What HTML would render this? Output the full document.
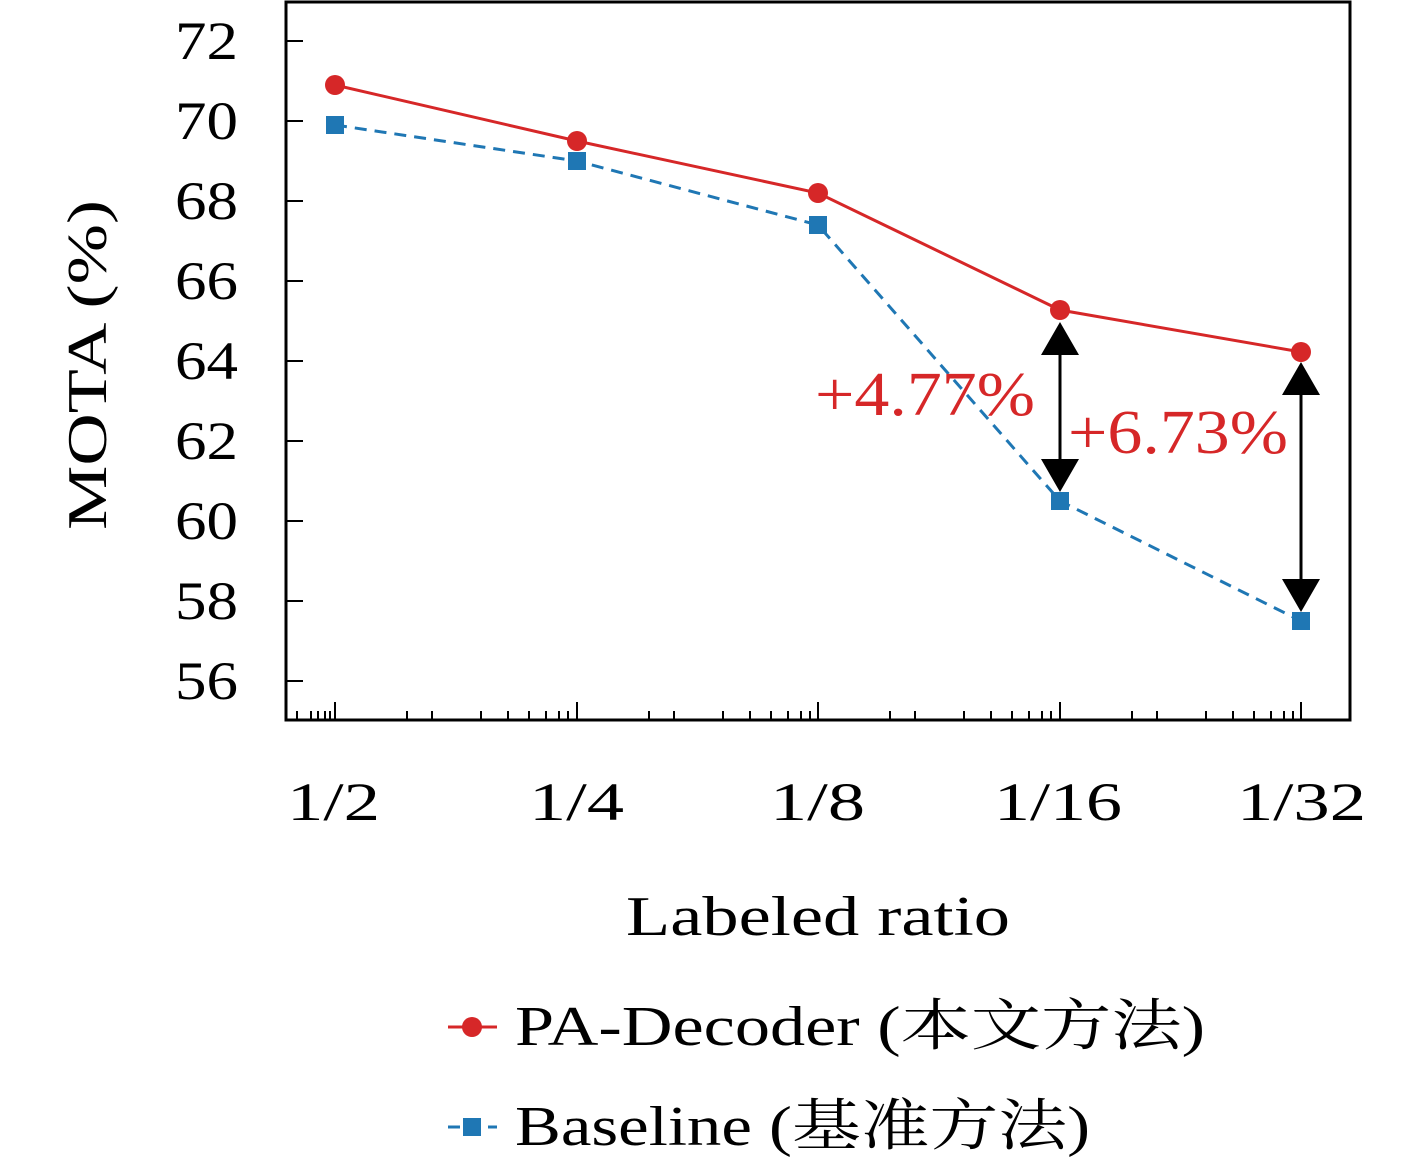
<!DOCTYPE html>
<html><head><meta charset="utf-8"><style>html,body{margin:0;padding:0;background:#fff}</style></head><body>
<svg width="1417" height="1165" xmlns="http://www.w3.org/2000/svg" font-family="'Liberation Serif','Noto Serif CJK SC',serif">
<g stroke="#000" stroke-width="2">
<line x1="286" y1="41" x2="303" y2="41"/><line x1="286" y1="121" x2="303" y2="121"/><line x1="286" y1="201" x2="303" y2="201"/><line x1="286" y1="281" x2="303" y2="281"/><line x1="286" y1="361" x2="303" y2="361"/><line x1="286" y1="441" x2="303" y2="441"/><line x1="286" y1="521" x2="303" y2="521"/><line x1="286" y1="601" x2="303" y2="601"/><line x1="286" y1="681" x2="303" y2="681"/>
<line x1="335" y1="720" x2="335" y2="702"/><line x1="577" y1="720" x2="577" y2="702"/><line x1="818" y1="720" x2="818" y2="702"/><line x1="1060" y1="720" x2="1060" y2="702"/><line x1="1301" y1="720" x2="1301" y2="702"/>
<path d="M297 720v-9M311 720v-9M318 720v-9M325 720v-9M330 720v-9
M407 720v-9M432 720v-9M481 720v-9M508 720v-9M529 720v-9M546 720v-9M559 720v-9M568 720v-9
M649 720v-9M674 720v-9M723 720v-9M750 720v-9M771 720v-9M788 720v-9M801 720v-9M810 720v-9
M890 720v-9M915 720v-9M964 720v-9M991 720v-9M1012 720v-9M1029 720v-9M1042 720v-9M1051 720v-9
M1132 720v-9M1157 720v-9M1206 720v-9M1233 720v-9M1254 720v-9M1271 720v-9M1284 720v-9M1293 720v-9"/>
</g>
<rect x="286" y="2" width="1064" height="718" fill="none" stroke="#000" stroke-width="3"/>
<g font-size="54" text-anchor="end">
<text x="238" y="59" textLength="63" lengthAdjust="spacingAndGlyphs">72</text><text x="238" y="139" textLength="63" lengthAdjust="spacingAndGlyphs">70</text><text x="238" y="219" textLength="63" lengthAdjust="spacingAndGlyphs">68</text><text x="238" y="299" textLength="63" lengthAdjust="spacingAndGlyphs">66</text><text x="238" y="379" textLength="63" lengthAdjust="spacingAndGlyphs">64</text><text x="238" y="459" textLength="63" lengthAdjust="spacingAndGlyphs">62</text><text x="238" y="539" textLength="63" lengthAdjust="spacingAndGlyphs">60</text><text x="238" y="619" textLength="63" lengthAdjust="spacingAndGlyphs">58</text><text x="238" y="699" textLength="63" lengthAdjust="spacingAndGlyphs">56</text>
</g>
<g font-size="54">
<text x="287" y="820" textLength="93" lengthAdjust="spacingAndGlyphs">1/2</text><text x="529" y="820" textLength="95" lengthAdjust="spacingAndGlyphs">1/4</text><text x="770" y="820" textLength="95" lengthAdjust="spacingAndGlyphs">1/8</text><text x="994" y="820" textLength="128" lengthAdjust="spacingAndGlyphs">1/16</text><text x="1237" y="820" textLength="129" lengthAdjust="spacingAndGlyphs">1/32</text>
</g>
<text x="626" y="935" font-size="56" textLength="384" lengthAdjust="spacingAndGlyphs">Labeled ratio</text>
<text transform="translate(106,530) rotate(-90)" font-size="56" textLength="330" lengthAdjust="spacingAndGlyphs">MOTA (%)</text>
<polyline points="335,125 577,161 818,225 1060,501 1301,621" fill="none" stroke="#1f77b4" stroke-width="3" stroke-dasharray="12,8"/>
<polyline points="335,85 577,141 818,193 1060,310 1301,352" fill="none" stroke="#d62728" stroke-width="3"/>
<g fill="#d62728"><circle cx="335" cy="85" r="10"/><circle cx="577" cy="141" r="10"/><circle cx="818" cy="193" r="10"/><circle cx="1060" cy="310" r="10"/><circle cx="1301" cy="352" r="10"/></g>
<g fill="#1f77b4"><rect x="326" y="116" width="18" height="18"/><rect x="568" y="152" width="18" height="18"/><rect x="809" y="216" width="18" height="18"/><rect x="1051" y="492" width="18" height="18"/><rect x="1292" y="612" width="18" height="18"/></g>
<g stroke="#000" stroke-width="3"><line x1="1060" y1="350" x2="1060" y2="460"/><line x1="1301" y1="390" x2="1301" y2="580"/></g>
<g fill="#000">
<polygon points="1060,322 1041,355 1079,355"/><polygon points="1060,492 1041,459 1079,459"/>
<polygon points="1301,362 1282,395 1320,395"/><polygon points="1301,612 1282,579 1320,579"/>
</g>
<g fill="#d62728" font-size="62"><text x="815" y="415" textLength="220" lengthAdjust="spacingAndGlyphs">+4.77%</text><text x="1068" y="453" textLength="220" lengthAdjust="spacingAndGlyphs">+6.73%</text></g>
<line x1="448" y1="1027" x2="497" y2="1027" stroke="#d62728" stroke-width="3"/><circle cx="472" cy="1027" r="10" fill="#d62728"/>
<text x="515" y="1045" font-size="56" textLength="690" lengthAdjust="spacingAndGlyphs">PA-Decoder (本文方法)</text>
<line x1="448" y1="1127" x2="497" y2="1127" stroke="#1f77b4" stroke-width="3" stroke-dasharray="12,8"/><rect x="463" y="1118" width="18" height="18" fill="#1f77b4"/>
<text x="515" y="1145" font-size="56" textLength="575" lengthAdjust="spacingAndGlyphs">Baseline (基准方法)</text>
</svg>
</body></html>
